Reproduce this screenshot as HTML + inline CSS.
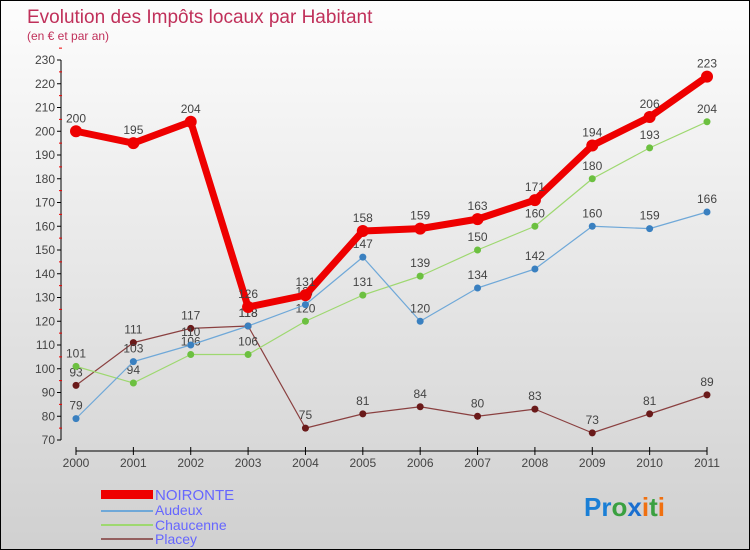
<!DOCTYPE html>
<html><head><meta charset="utf-8"><style>
body{margin:0}
#c{width:750px;height:550px;position:relative;box-sizing:border-box;border:1px solid #000;background:linear-gradient(#fdfdfd,#d0d0d0);font-family:"Liberation Sans",sans-serif;overflow:hidden}
svg text{font-family:"Liberation Sans",sans-serif}
</style></head><body>
<div id="c">
<svg id="s" width="750" height="550">
<text x="26" y="22" font-size="19" fill="#c0305a">Evolution des Impôts locaux par Habitant</text>
<text x="26" y="39" font-size="12" fill="#c0305a">(en € et par an)</text>
<g id="axes"></g><g id="series"></g>
<g>
<rect x="100" y="489" width="52" height="9" fill="#e00"/>
<text x="154" y="499" font-size="15" fill="#6666ff">NOIRONTE</text>
<line x1="100" y1="510" x2="152" y2="510" stroke="#6fa8d8" stroke-width="2"/>
<text x="154" y="514" font-size="14" fill="#6666ff">Audeux</text>
<line x1="100" y1="524" x2="152" y2="524" stroke="#9ed870" stroke-width="2"/>
<text x="154" y="529" font-size="14" fill="#6666ff">Chaucenne</text>
<line x1="100" y1="538" x2="152" y2="538" stroke="#946060" stroke-width="2"/>
<text x="154" y="543" font-size="14" fill="#6666ff">Placey</text>
</g>
<text x="583" y="515" font-size="26" font-weight="bold"><tspan fill="#1a7fd6">Pr</tspan><tspan fill="#3aa040">o</tspan><tspan fill="#1a6fd0">x</tspan><tspan fill="#f07010">i</tspan><tspan fill="#3aa040">t</tspan><tspan fill="#f07010">i</tspan></text>
</svg></div>
<script>
const years=["2000","2001","2002","2003","2004","2005","2006","2007","2008","2009","2010","2011"];
const yTicks=[70,80,90,100,110,120,130,140,150,160,170,180,190,200,210,220,230];
const noironte=[200,195,204,126,131,158,159,163,171,194,206,223];
const audeux=[79,103,110,118,127,147,120,134,142,160,159,166];
const chaucenne=[101,94,106,106,120,131,139,150,160,180,193,204];
const placey=[93,111,117,118,75,81,84,80,83,73,81,89];
const NS="http://www.w3.org/2000/svg";
const X=i=>75+i*(706-75)/11;
const Y=v=>439-(v-70)*(439-59)/160;
function mk(t,a,p){const e=document.createElementNS(NS,t);for(const k in a)e.setAttribute(k,a[k]);p.appendChild(e);return e;}
const ax=document.getElementById('axes');
const yl=mk('line',{x1:60,y1:Y(230),x2:60,y2:Y(70),stroke:'#000'},ax);


yTicks.forEach(v=>{
 mk('line',{x1:56,y1:Y(v),x2:60,y2:Y(v),stroke:'#000'},ax);
 mk('line',{x1:58,y1:Y(v+5),x2:61,y2:Y(v+5),stroke:'#e00'},ax);
 const t=mk('text',{x:54,y:Y(v)+4,'font-size':12,fill:'#444','text-anchor':'end'},ax);t.textContent=v;
 
 
});
const xl=mk('line',{x1:X(0),y1:450,x2:X(11),y2:450,stroke:'#000'},ax);


years.forEach((y,i)=>{
 mk('line',{x1:X(i),y1:446,x2:X(i),y2:454,stroke:'#000'},ax);
 const t=mk('text',{x:X(i),y:466,'font-size':12,fill:'#444','text-anchor':'middle'},ax);t.textContent=y;
 
 
});
const sg=document.getElementById('series');
function draw(d,name,color,w,r,dot){
 const g=mk('g',{},sg);
 
 
 const pl=mk('polyline',{points:d.map((v,i)=>X(i)+','+Y(v)).join(' '),fill:'none',stroke:color,'stroke-width':w,'stroke-linejoin':'round'},g);
 
 
 d.forEach((v,i)=>{
  const c=mk('circle',{cx:X(i),cy:Y(v),r:r,fill:dot},g);
  
  
  const t=mk('text',{x:X(i),y:Y(v)-9,'font-size':12,fill:'#444','text-anchor':'middle'},g);t.textContent=v;
  
  
 });
}
draw(placey,'placey','#8a4040',1.2,3.5,'#6a1a1a');
draw(chaucenne,'chaucenne','#9ed870',1.2,3.5,'#6cc040');
draw(audeux,'audeux','#6fa8d8',1.2,3.5,'#3a80c0');
draw(noironte,'noironte','#ee0000',7,6,'#ee0000');
</script></body></html>
